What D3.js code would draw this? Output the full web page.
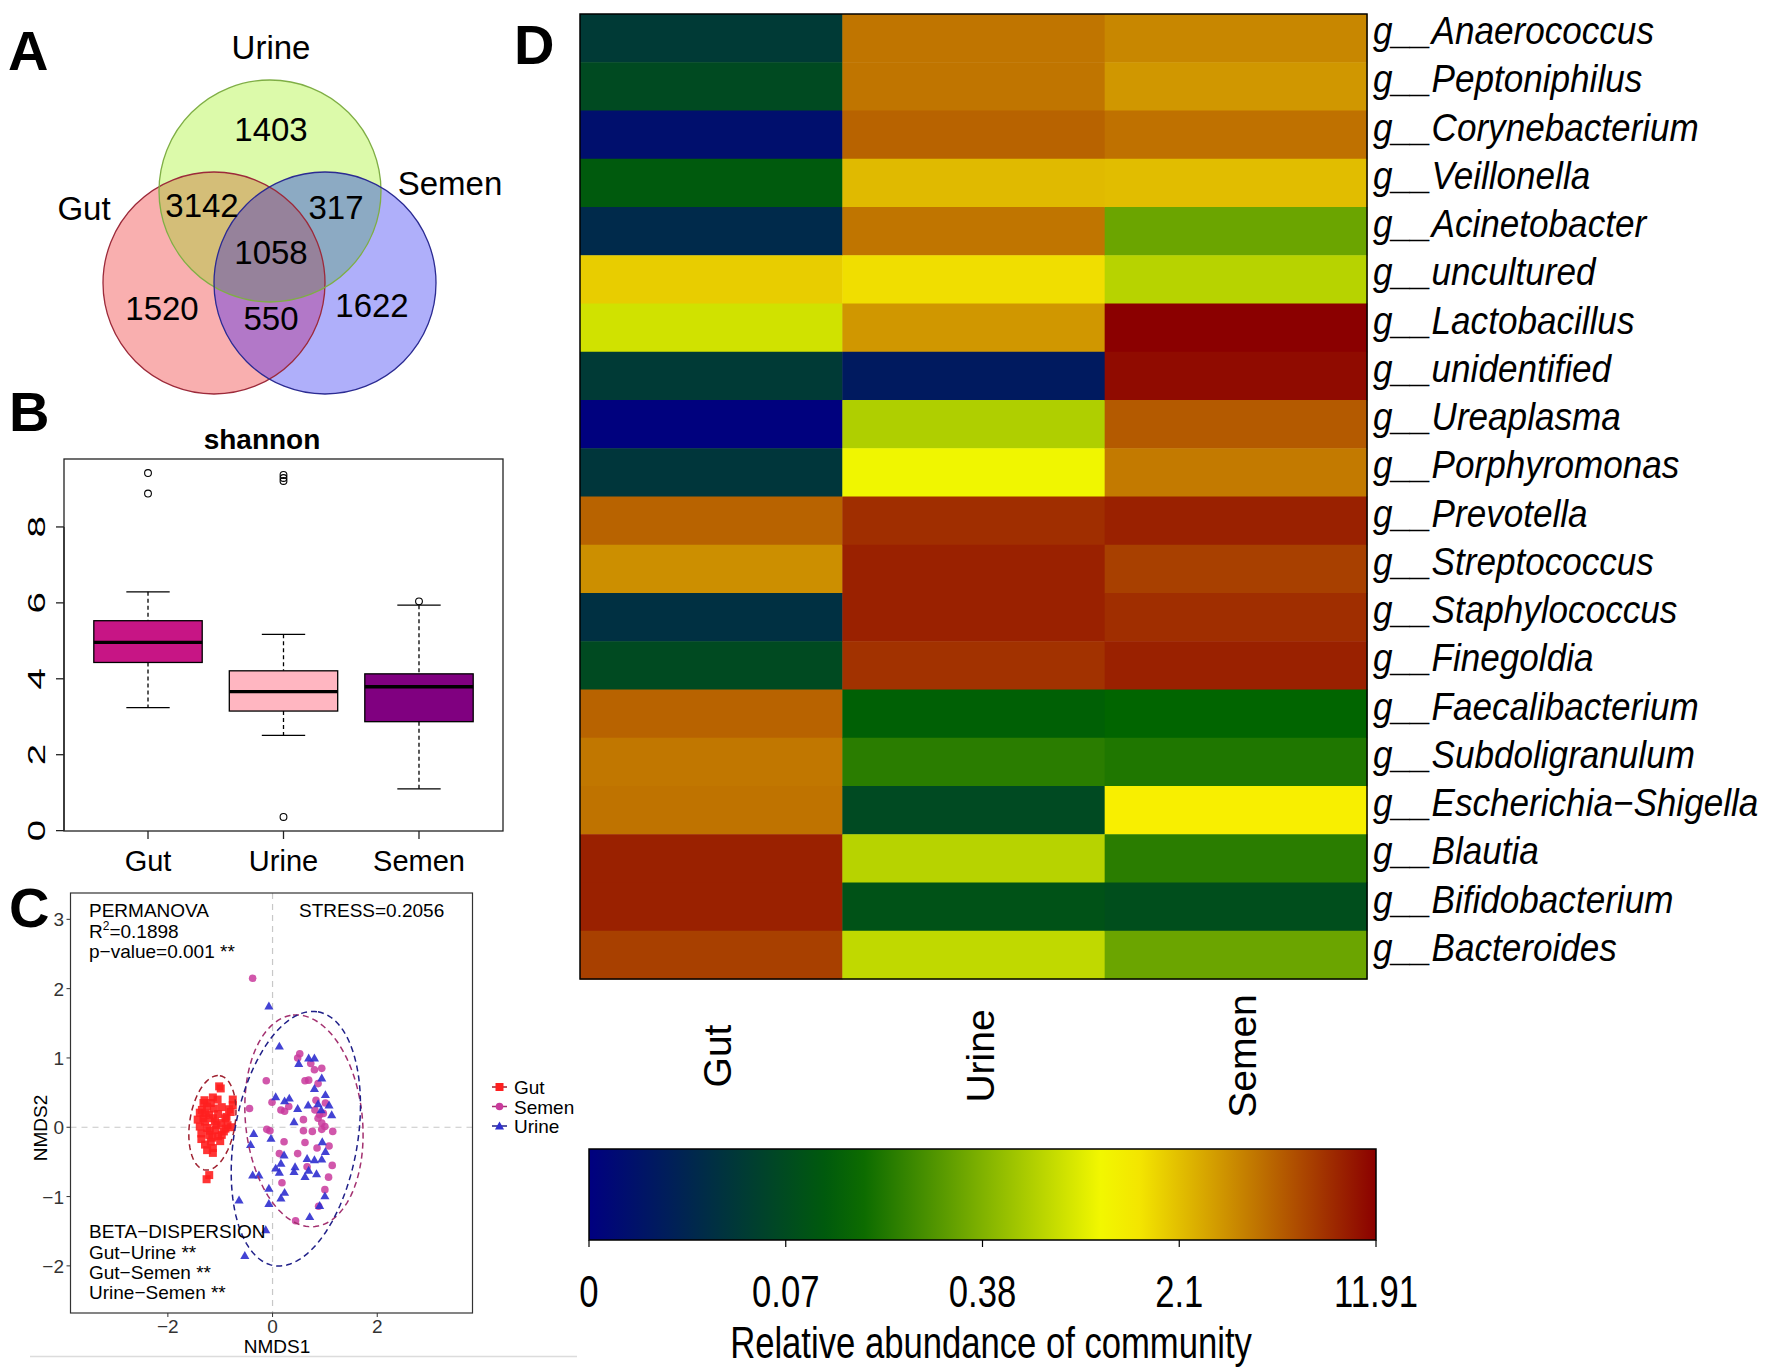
<!DOCTYPE html>
<html><head><meta charset="utf-8">
<script src="https://cdn.jsdelivr.net/npm/d3@7"></script>
<style>
body{margin:0;background:#fff}
svg{display:block}
text{font-family:"Liberation Sans",Arial,sans-serif}
</style></head>
<body><svg id="c" width="1772" height="1368"></svg>
<script>
// ================= DATA =================
// Panel A – Venn
const vennSets = ["Gut", "Urine", "Semen"];
const vennRegions = ["Urine only", "Gut∩Urine", "Urine∩Semen", "Gut∩Urine∩Semen", "Gut only", "Gut∩Semen", "Semen only"];
const vennCounts = [1403, 3142, 317, 1058, 1520, 550, 1622];

// Panel B – Shannon boxplot
const boxGroups = ["Gut", "Urine", "Semen"];
const boxLowWhisker = [3.24, 2.51, 1.10];
const boxQ1 = [4.43, 3.15, 2.87];
const boxMedian = [4.96, 3.66, 3.79];
const boxQ3 = [5.53, 4.21, 4.13];
const boxHighWhisker = [6.29, 5.17, 5.94];
const boxOutliers = [[9.42, 8.88], [9.37, 9.29, 9.21, 0.36], [6.04]];
const shannonTicks = [0, 2, 4, 6, 8];

// Panel C – NMDS
const nmdsGut = [[-1.02,0.59],[-0.99,0.56],[-1.14,0.43],[-1.30,0.39],[-0.76,0.40],[-1.32,0.35],[-1.25,0.30],[-1.12,0.27],[-0.97,0.29],[-0.83,0.26],[-1.39,0.21],[-1.21,0.18],[-1.04,0.19],[-0.88,0.15],[-0.76,0.32],[-1.43,0.11],[-1.29,0.08],[-1.14,0.13],[-0.98,0.06],[-0.86,0.03],[-1.39,0.01],[-1.25,-0.01],[-1.09,-0.04],[-0.93,-0.06],[-0.79,0.00],[-1.36,-0.09],[-1.21,-0.11],[-1.04,-0.13],[-1.36,-0.17],[-1.18,-0.21],[-0.97,-0.11],[-1.29,-0.25],[-1.14,-0.30],[-1.25,-0.33],[-1.14,-0.37],[-1.21,-0.69],[-1.26,-0.75],[-0.90,0.13],[-1.07,0.03],[-1.32,0.13],[-1.18,0.35],[-1.05,0.40],[-0.80,0.22],[-1.35,0.25],[-1.00,-0.20],[-1.10,0.08],[-1.20,-0.05],[-0.90,-0.02],[-1.28,0.20],[-1.15,-0.15]];
const nmdsSemen = [[-0.38,2.15],[0.52,1.06],[0.48,1.00],[0.73,0.92],[0.80,0.83],[0.94,0.85],[-0.12,0.67],[0.62,0.67],[0.69,0.68],[0.87,0.63],[-0.01,0.36],[-0.44,0.27],[0.16,0.25],[0.23,0.23],[0.31,0.30],[0.83,0.39],[0.90,0.18],[0.87,0.13],[0.97,0.20],[1.01,0.35],[0.59,0.11],[-0.11,-0.03],[-0.05,-0.05],[0.59,-0.05],[0.76,-0.06],[0.94,-0.03],[1.15,-0.06],[1.00,0.01],[0.22,-0.21],[0.62,-0.22],[0.85,-0.30],[1.08,-0.27],[0.13,-0.38],[0.48,-0.38],[0.66,-0.57],[1.14,-0.55],[1.07,-0.72],[0.18,-0.80],[1.00,-0.90],[0.88,-1.14],[0.44,-1.35],[0.81,0.25],[0.94,0.06]];
const nmdsUrine = [[-0.07,1.75],[0.13,1.17],[0.50,0.92],[0.69,1.00],[0.80,1.00],[0.94,0.71],[0.80,0.56],[0.06,0.44],[0.23,0.38],[0.32,0.42],[0.48,0.27],[0.68,0.32],[0.87,0.34],[1.01,0.47],[1.08,0.32],[1.13,0.18],[0.41,0.08],[0.93,0.25],[-0.36,-0.09],[-0.03,-0.16],[-0.42,-0.25],[1.01,-0.35],[0.95,-0.21],[0.22,-0.40],[0.16,-0.52],[0.66,-0.45],[0.80,-0.47],[0.94,-0.46],[0.06,-0.59],[0.13,-0.65],[0.43,-0.57],[0.41,-0.64],[0.69,-0.62],[0.62,-0.71],[0.84,-0.67],[-0.38,-0.69],[-0.26,-0.69],[-0.07,-0.88],[0.23,-0.94],[0.16,-1.02],[-0.07,-1.10],[-0.64,-1.05],[1.00,-0.99],[0.71,-1.29],[-0.13,-1.48],[-0.53,-1.85],[0.90,-1.13]];
// confidence ellipses: centre, conjugate semi-axis vectors (data units)
const ellipseGroups = ["Gut", "Semen", "Urine"];
const ellipseCentres = [[-1.149, 0.064], [0.60, 0.093], [0.445, -0.165]];
const ellipseAxisU = [[0.143, 0.68], [-0.21, 1.526], [0.423, 1.831]];
const ellipseAxisV = [[0.427, -0.051], [1.11, 0.087], [1.16, -0.153]];
const nmdsTicksX = [-2, 0, 2];
const nmdsTicksY = [-2, -1, 0, 1, 2, 3];

// Panel D – heatmap
const genera = ["Anaerococcus","Peptoniphilus","Corynebacterium","Veillonella","Acinetobacter","uncultured","Lactobacillus","unidentified","Ureaplasma","Porphyromonas","Prevotella","Streptococcus","Staphylococcus","Finegoldia","Faecalibacterium","Subdoligranulum","Escherichia−Shigella","Blautia","Bifidobacterium","Bacteroides"];
const heatGroups = ["Gut", "Urine", "Semen"];
const heatGut   = [0.054,0.069,0.014,0.132,0.039,1.98,1.10,0.054,0.0014,0.050,6.85,4.57,0.045,0.069,6.85,5.83,6.02,10.22,10.22,8.65];
const heatUrine = [5.91,5.91,6.85,2.37,5.91,1.82,4.14,0.024,0.81,1.39,9.56,10.22,10.22,9.36,0.157,0.241,0.0686,0.88,0.0985,0.958];
const heatSemen = [5.00,4.14,6.10,2.22,0.346,0.88,11.91,11.36,7.28,5.63,10.22,8.65,9.56,10.22,0.175,0.223,1.67,0.241,0.0824,0.346];
const colorbarTicks = [0, 0.07, 0.38, 2.1, 11.91];
const colorbarLabels = ["0", "0.07", "0.38", "2.1", "11.91"];

// ================= DRAW =================
const svg = d3.select("#c");
svg.append("rect").attr("width",1772).attr("height",1368).attr("fill","#fff");
const defs = svg.append("defs");

// panel letters
[["A",8,70],["B",9,431],["C",9,927],["D",514,64]].forEach(([t,x,y])=>{
  svg.append("text").attr("x",x).attr("y",y).attr("font-size",56).attr("font-weight","bold").text(t);
});

// ---------- A: Venn ----------
{
  const g = svg.append("g");
  const r = 111;
  const circ = {Gut:[214,283], Urine:[270,191], Semen:[325,283]};
  const alone = {Gut:"#f9afaf", Urine:"#dcfaaa", Semen:"#afaffa"};
  const strokes = {Gut:"#9c2a3a", Urine:"#7fae45", Semen:"#2b2b92"};
  vennSets.forEach(s=>{
    defs.append("clipPath").attr("id","clip"+s).append("circle")
      .attr("cx",circ[s][0]).attr("cy",circ[s][1]).attr("r",r);
  });
  const disk = (sel,s,fill)=>sel.append("circle").attr("cx",circ[s][0]).attr("cy",circ[s][1]).attr("r",r).attr("fill",fill);
  vennSets.forEach(s=>disk(g,s,alone[s]));
  disk(g.append("g").attr("clip-path","url(#clipGut)"),"Urine","#d4be78");
  disk(g.append("g").attr("clip-path","url(#clipUrine)"),"Semen","#8caac3");
  disk(g.append("g").attr("clip-path","url(#clipGut)"),"Semen","#b278c8");
  disk(g.append("g").attr("clip-path","url(#clipGut)").append("g").attr("clip-path","url(#clipUrine)"),"Semen","#96829b");
  vennSets.forEach(s=>{
    g.append("circle").attr("cx",circ[s][0]).attr("cy",circ[s][1]).attr("r",r)
      .attr("fill","none").attr("stroke",strokes[s]).attr("stroke-width",1.3);
  });
  const regionPos = [[271,141],[202,217],[336,219],[271,264],[162,320],[271,330],[372,317]];
  vennCounts.forEach((c,i)=>{
    g.append("text").attr("x",regionPos[i][0]).attr("y",regionPos[i][1]).attr("text-anchor","middle")
      .attr("font-size",33).text(c);
  });
  const labelPos = {Urine:[271,59], Gut:[84,220], Semen:[450,195]};
  vennSets.forEach(s=>{
    g.append("text").attr("x",labelPos[s][0]).attr("y",labelPos[s][1]).attr("text-anchor","middle")
      .attr("font-size",33).text(s);
  });
}

// ---------- B: boxplot ----------
{
  const g = svg.append("g");
  const x = d3.scaleLinear().domain([0.38,3.62]).range([64,503]);
  const y = d3.scaleLinear().domain([-0.01,9.79]).range([831,459]);
  const bw = 0.8*(x(1)-x(0)), cw = 0.32*(x(1)-x(0));
  boxGroups.forEach((grp,i)=>{
    const cx = x(i+1);
    const col = ["#c71585","#ffb6c1","#800080"][i];
    g.append("line").attr("x1",cx).attr("x2",cx).attr("y1",y(boxHighWhisker[i])).attr("y2",y(boxQ3[i]))
      .attr("stroke","#000").attr("stroke-width",1.3).attr("stroke-dasharray","4,3");
    g.append("line").attr("x1",cx).attr("x2",cx).attr("y1",y(boxQ1[i])).attr("y2",y(boxLowWhisker[i]))
      .attr("stroke","#000").attr("stroke-width",1.3).attr("stroke-dasharray","4,3");
    [boxHighWhisker[i], boxLowWhisker[i]].forEach(v=>{
      g.append("line").attr("x1",cx-cw/2).attr("x2",cx+cw/2).attr("y1",y(v)).attr("y2",y(v))
        .attr("stroke","#000").attr("stroke-width",1.3);
    });
    g.append("rect").attr("x",cx-bw/2).attr("width",bw).attr("y",y(boxQ3[i])).attr("height",y(boxQ1[i])-y(boxQ3[i]))
      .attr("fill",col).attr("stroke","#000").attr("stroke-width",1.3);
    g.append("line").attr("x1",cx-bw/2).attr("x2",cx+bw/2).attr("y1",y(boxMedian[i])).attr("y2",y(boxMedian[i]))
      .attr("stroke","#000").attr("stroke-width",3.3);
    boxOutliers[i].forEach(v=>{
      g.append("circle").attr("cx",cx).attr("cy",y(v)).attr("r",3.4).attr("fill","none").attr("stroke","#000").attr("stroke-width",1.1);
    });
  });
  g.append("rect").attr("x",64).attr("y",459).attr("width",439).attr("height",372).attr("fill","none").attr("stroke","#222").attr("stroke-width",1.3);
  g.append("line").attr("x1",64).attr("x2",64).attr("y1",y(0)).attr("y2",y(8)).attr("stroke","#222").attr("stroke-width",1.3);
  shannonTicks.forEach(t=>{
    g.append("line").attr("x1",56).attr("x2",64).attr("y1",y(t)).attr("y2",y(t)).attr("stroke","#222").attr("stroke-width",1.3);
    g.append("text").attr("transform",`translate(45,${y(t)}) rotate(-90) scale(1.6,1)`).attr("text-anchor","middle")
      .attr("font-size",24).text(t);
  });
  boxGroups.forEach((grp,i)=>{
    g.append("line").attr("x1",x(i+1)).attr("x2",x(i+1)).attr("y1",831).attr("y2",839).attr("stroke","#222").attr("stroke-width",1.3);
    g.append("text").attr("x",x(i+1)).attr("y",871).attr("text-anchor","middle").attr("font-size",29).text(grp);
  });
  g.append("text").attr("x",262).attr("y",449).attr("text-anchor","middle").attr("font-size",28).attr("font-weight","bold").text("shannon");
}

// ---------- C: NMDS ----------
{
  const g = svg.append("g");
  const x = d3.scaleLinear().domain([-3.86,3.82]).range([70.5,472.5]);
  const y = d3.scaleLinear().domain([-2.68,3.38]).range([1313,893]);
  g.append("line").attr("x1",x(0)).attr("x2",x(0)).attr("y1",893).attr("y2",1313).attr("stroke","#c8c8c8").attr("stroke-width",1.2).attr("stroke-dasharray","6,5");
  g.append("line").attr("x1",70.5).attr("x2",472.5).attr("y1",y(0)).attr("y2",y(0)).attr("stroke","#c8c8c8").attr("stroke-width",1.2).attr("stroke-dasharray","6,5");

  const sq = 8;
  g.selectAll(".gut").data(nmdsGut).enter().append("rect")
    .attr("x",d=>x(d[0])-sq/2).attr("y",d=>y(d[1])-sq/2).attr("width",sq).attr("height",sq)
    .attr("fill","#ff1f1f").attr("fill-opacity",0.9);
  g.selectAll(".sem").data(nmdsSemen).enter().append("circle")
    .attr("cx",d=>x(d[0])).attr("cy",d=>y(d[1])).attr("r",3.8)
    .attr("fill","#c93a9c").attr("fill-opacity",0.85);
  const tri = d3.symbol().type(d3.symbolTriangle).size(36);
  g.selectAll(".uri").data(nmdsUrine).enter().append("path")
    .attr("transform",d=>`translate(${x(d[0])},${y(d[1])+0.8})`).attr("d",tri())
    .attr("fill","#2f2fcf").attr("fill-opacity",0.9);

  const ellCols = ["#9e1f2e","#a3306f","#1f1f88"];
  ellipseGroups.forEach((grp,i)=>{
    const c = ellipseCentres[i], u = ellipseAxisU[i], v = ellipseAxisV[i];
    const pts = d3.range(0,361,3).map(a=>{
      const t = a*Math.PI/180;
      return [x(c[0]+u[0]*Math.cos(t)+v[0]*Math.sin(t)), y(c[1]+u[1]*Math.cos(t)+v[1]*Math.sin(t))];
    });
    g.append("path").attr("d",d3.line()(pts)).attr("fill","none").attr("stroke",ellCols[i])
      .attr("stroke-width",1.5).attr("stroke-dasharray","6,4");
  });

  g.append("rect").attr("x",70.5).attr("y",893).attr("width",402).attr("height",420).attr("fill","none").attr("stroke","#333").attr("stroke-width",1.2);
  nmdsTicksX.forEach(t=>{
    g.append("line").attr("x1",x(t)).attr("x2",x(t)).attr("y1",1313).attr("y2",1317).attr("stroke","#333");
    g.append("text").attr("x",x(t)).attr("y",1333).attr("text-anchor","middle").attr("font-size",19).attr("fill","#333").text(t<0?"−"+Math.abs(t):t);
  });
  nmdsTicksY.forEach(t=>{
    g.append("line").attr("x1",66.5).attr("x2",70.5).attr("y1",y(t)).attr("y2",y(t)).attr("stroke","#333");
    g.append("text").attr("x",64).attr("y",y(t)+7).attr("text-anchor","end").attr("font-size",19).attr("fill","#333").text(t<0?"−"+Math.abs(t):t);
  });
  g.append("text").attr("x",277).attr("y",1353).attr("text-anchor","middle").attr("font-size",19).text("NMDS1");
  g.append("text").attr("transform","translate(47,1128) rotate(-90)").attr("text-anchor","middle").attr("font-size",19).text("NMDS2");

  const fs = 19;
  g.append("text").attr("x",89).attr("y",917).attr("font-size",fs).text("PERMANOVA");
  const r2 = g.append("text").attr("x",89).attr("y",938).attr("font-size",fs);
  r2.append("tspan").text("R");
  r2.append("tspan").attr("font-size",12).attr("dy",-8).text("2");
  r2.append("tspan").attr("dy",8).text("=0.1898");
  g.append("text").attr("x",89).attr("y",958).attr("font-size",fs).text("p−value=0.001 **");
  g.append("text").attr("x",299).attr("y",917).attr("font-size",fs).text("STRESS=0.2056");
  ["BETA−DISPERSION","Gut−Urine **","Gut−Semen **","Urine−Semen **"].forEach((t,i)=>{
    g.append("text").attr("x",89).attr("y",[1238,1258.5,1279,1298.5][i]).attr("font-size",fs).text(t);
  });

  // legend
  const legY = [1087,1106.5,1126];
  const legCols = ["#ff1f1f","#c93a9c","#2f2fcf"];
  ["Gut","Semen","Urine"].forEach((s,i)=>{
    g.append("line").attr("x1",492).attr("x2",507).attr("y1",legY[i]).attr("y2",legY[i]).attr("stroke",ellCols[i]).attr("stroke-width",1.5);
    if(i===0) g.append("rect").attr("x",495.5).attr("y",legY[i]-4).attr("width",8).attr("height",8).attr("fill",legCols[i]);
    if(i===1) g.append("circle").attr("cx",499.5).attr("cy",legY[i]).attr("r",3.8).attr("fill",legCols[i]);
    if(i===2) g.append("path").attr("transform",`translate(499.5,${legY[i]+0.8})`).attr("d",tri()).attr("fill",legCols[i]);
    g.append("text").attr("x",514).attr("y",legY[i]+7).attr("font-size",19).text(s);
  });
  svg.append("line").attr("x1",30).attr("x2",577).attr("y1",1356.5).attr("y2",1356.5).attr("stroke","#dcdcdc").attr("stroke-width",1.5);
}

// ---------- D: heatmap ----------
{
  const g = svg.append("g");
  const x = d3.scaleBand().domain(heatGroups).range([580,1367]);
  const y = d3.scaleBand().domain(genera).range([14,979]);
  const tpos = d3.scaleLinear().domain(colorbarTicks).range([0,0.25,0.5,0.75,1]).clamp(true);
  const ramp = d3.scaleLinear().domain([0,1/3,2/3,1]).range(["#000080","#006400","#ffff00","#8b0000"]).interpolate(d3.interpolateRgb);
  const color = v => ramp(tpos(v));
  const cols = [heatGut, heatUrine, heatSemen];
  heatGroups.forEach((grp,j)=>{
    g.selectAll(".c"+j).data(genera).enter().append("rect")
      .attr("x",x(grp)).attr("y",d=>y(d)).attr("width",x.bandwidth()+0.5).attr("height",y.bandwidth()+0.5)
      .attr("fill",(d,i)=>color(cols[j][i]));
  });
  g.append("rect").attr("x",580).attr("y",14).attr("width",787).attr("height",965).attr("fill","none").attr("stroke","#000").attr("stroke-width",1.5);
  genera.forEach(gname=>{
    g.append("text").attr("transform",`translate(1373,${y(gname)+y.bandwidth()/2+6}) scale(0.9,1)`)
      .attr("font-size",39).attr("font-style","italic").text("g__"+gname);
  });
  heatGroups.forEach(grp=>{
    g.append("text").attr("transform",`translate(${x(grp)+x.bandwidth()/2+20},1056) rotate(-90)`)
      .attr("text-anchor","middle").attr("font-size",39).text(grp);
  });

  // colour bar
  const cbx = d3.scaleLinear().domain(colorbarTicks).range([589,785.75,982.5,1179.25,1376]);
  const grad = defs.append("linearGradient").attr("id","cbar").attr("x1","0%").attr("x2","100%");
  d3.range(0,1.0001,0.05).forEach(t=>{
    grad.append("stop").attr("offset",(t*100)+"%").attr("stop-color",ramp(t));
  });
  g.append("rect").attr("x",589).attr("y",1149).attr("width",787).attr("height",91).attr("fill","url(#cbar)").attr("stroke","#000").attr("stroke-width",1.5);
  colorbarTicks.forEach((t,i)=>{
    g.append("line").attr("x1",cbx(t)).attr("x2",cbx(t)).attr("y1",1240).attr("y2",1247).attr("stroke","#000").attr("stroke-width",1.2);
    g.append("text").attr("transform",`translate(${cbx(t)},1307) scale(0.77,1)`).attr("text-anchor","middle")
      .attr("font-size",45).text(colorbarLabels[i]);
  });
  g.append("text").attr("transform","translate(991,1358) scale(0.77,1)").attr("text-anchor","middle")
    .attr("font-size",45).text("Relative abundance of community");
}
</script>
</body></html>
